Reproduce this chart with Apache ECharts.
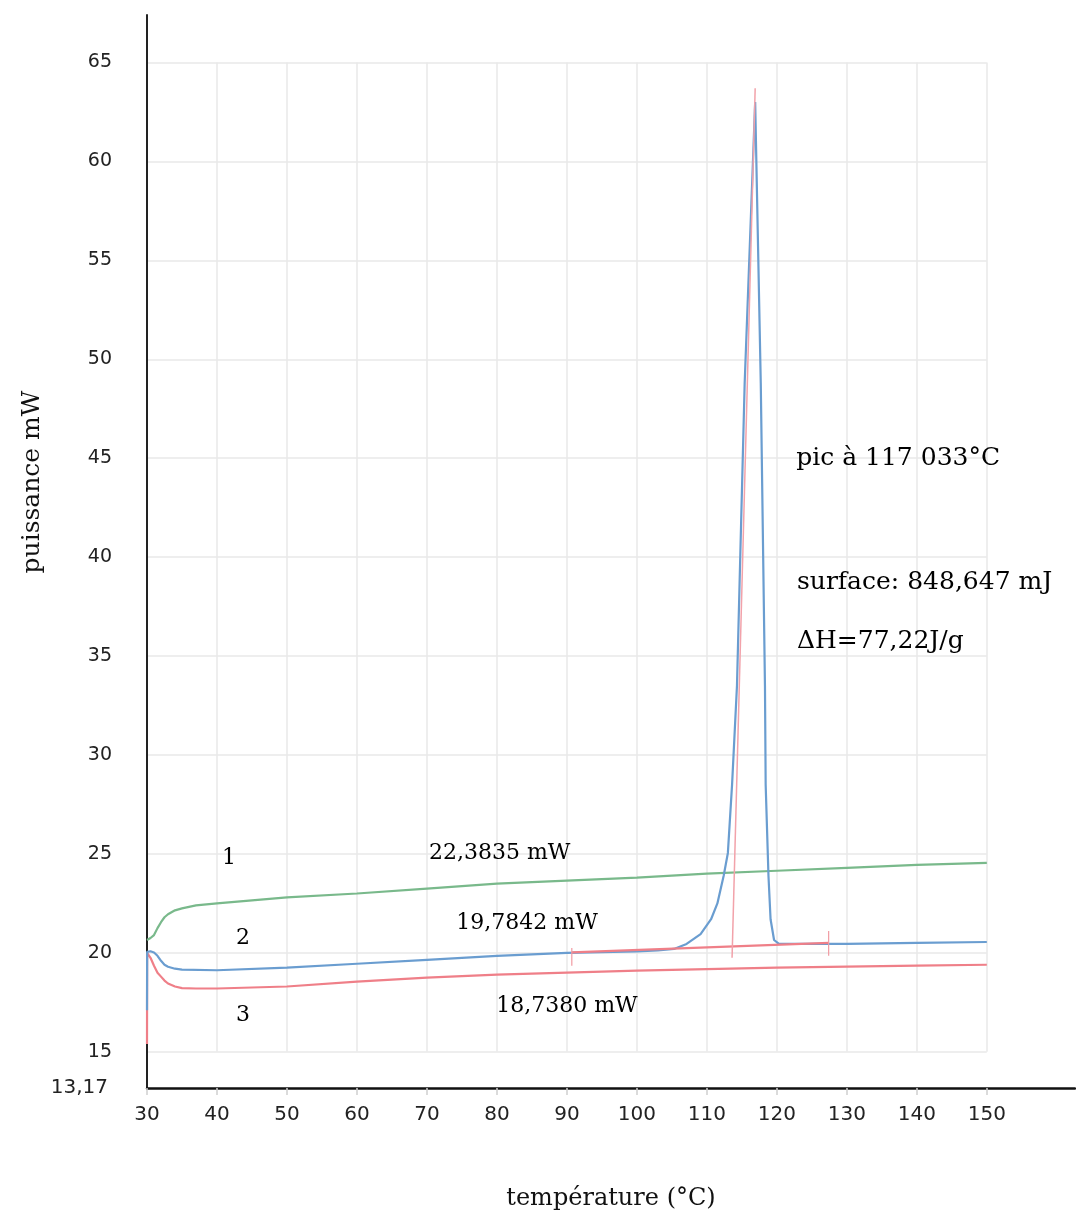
<!DOCTYPE html>
<html><head><meta charset="utf-8">
<script src="https://cdn.jsdelivr.net/npm/echarts@6/dist/echarts.min.js"></script>
<style>html,body{margin:0;padding:0;background:#fff}#c{width:1076px;height:1219px}</style>
</head><body><div id="c"></div>
<script>
// ---- data (temperature °C, power mW) ----
const tempGreen  = [30, 30.5, 31, 31.5, 32, 32.5, 33, 34, 35, 37, 40, 45, 50, 60, 70, 80, 90, 100, 110, 120, 130, 140, 150];
const powerGreen = [20.65, 20.75, 20.9, 21.25, 21.55, 21.8, 21.95, 22.15, 22.25, 22.4, 22.5, 22.65, 22.8, 23.0, 23.25, 23.5, 23.65, 23.8, 24.0, 24.15, 24.3, 24.45, 24.55];

const tempBlue  = [30, 30.02, 30.5, 31, 31.5, 32, 32.5, 33, 34, 35, 40, 50, 60, 70, 80, 90, 100, 103, 105.3, 107.1, 109.1, 110.6, 111.5, 112.4, 113.0, 113.6, 114.3, 115.4, 116.9, 117.7, 118.3, 118.4, 118.8, 119.1, 119.6, 120.3, 122, 130, 140, 150];
const powerBlue = [17.1, 20.05, 20.08, 20.02, 19.85, 19.6, 19.4, 19.3, 19.2, 19.15, 19.12, 19.25, 19.45, 19.65, 19.85, 20.0, 20.08, 20.12, 20.2, 20.45, 20.95, 21.7, 22.5, 23.9, 25.05, 28.5, 33.5, 48.8, 63.0, 48.8, 33.5, 28.5, 23.9, 21.7, 20.65, 20.45, 20.45, 20.45, 20.5, 20.55];

const tempRed  = [30, 30.02, 30.5, 31, 31.5, 32, 32.5, 33, 34, 35, 37, 40, 50, 60, 70, 80, 90, 100, 110, 120, 130, 140, 150];
const powerRed = [15.4, 20.0, 19.75, 19.35, 19.0, 18.8, 18.6, 18.45, 18.3, 18.22, 18.2, 18.2, 18.3, 18.55, 18.75, 18.9, 19.0, 19.1, 19.18, 19.25, 19.3, 19.35, 19.4];

// peak marker line and integration baseline
const tempPeakMark  = [113.6, 116.9];
const powerPeakMark = [19.75, 63.7];
const tempBaseline  = [90.7, 127.4];
const powerBaseline = [20.02, 20.5];
const tempBaseTickA = [90.7, 90.7];
const powerBaseTickA = [19.35, 20.25];
const tempBaseTickB = [127.4, 127.4];
const powerBaseTickB = [19.85, 21.1];

// annotations
const noteCentreText = ['1', '2', '3', '22,3835 mW', '19,7842 mW', '18,7380 mW'];
const noteCentreT    = [41.7, 43.7, 43.7, 80.4, 84.3, 90.0];
const noteCentreV    = [24.8, 20.75, 16.85, 25.05, 21.5, 17.3];
const noteLeftText = ['pic à 117 033°C', 'surface: 848,647 mJ', 'ΔH=77,22J/g'];
const noteLeftT    = [122.7, 122.8, 122.8];
const noteLeftV    = [45.0, 38.7, 35.75];

// axes
const xTickMin = 30, xTickMax = 150, xTickStep = 10;
const yTickMin = 15, yTickMax = 65, yTickStep = 5;
const xAxisEnd = 162.6, yAxisMin = 13.17, yAxisEnd = 67.4;

const zip = (a, b) => a.map((v, i) => [v, b[i]]);
const serif = "'DejaVu Serif', 'Liberation Serif', serif";
const sans = "'DejaVu Sans', sans-serif";

const chart = echarts.init(document.getElementById('c'));
const lineSeries = (name, t, v, color, width, z) => ({
  name, type: 'line', xAxisIndex: 0, yAxisIndex: 0, data: zip(t, v), showSymbol: false, symbol: 'none',
  lineStyle: { color, width }, z: z || 3, animation: false, silent: true
});

chart.setOption({
  animation: false,
  backgroundColor: '#fff',
  grid: [
    { left: 147, right: 1, top: 15, bottom: 131, outerBoundsMode: 'none', containLabel: false },
    { left: 147, right: 89.2, top: 62.5, bottom: 167.2, outerBoundsMode: 'none', containLabel: false }
  ],
  xAxis: [
    { gridIndex: 0, type: 'value', min: xTickMin, max: xAxisEnd,
      axisLine: { show: true, lineStyle: { color: '#111', width: 2.5 } },
      axisTick: { show: false }, axisLabel: { show: false }, splitLine: { show: false },
      name: 'température (°C)', nameLocation: 'middle', nameGap: 99,
      nameTextStyle: { fontFamily: serif, fontSize: 24, color: '#111' } },
    { gridIndex: 1, type: 'value', min: xTickMin, max: xTickMax, interval: xTickStep, offset: 36.2,
      axisLine: { show: false },
      axisTick: { show: true, length: 7, lineStyle: { color: '#cfcfcf', width: 1.5 } },
      axisLabel: { margin: 17, fontFamily: sans, fontSize: 20, color: '#222' },
      splitLine: { show: true, lineStyle: { color: '#e9e9e9', width: 1.5 } } }
  ],
  yAxis: [
    { gridIndex: 0, type: 'value', min: yAxisMin, max: yAxisEnd,
      axisLine: { show: true, lineStyle: { color: '#222', width: 2 } },
      axisTick: { show: false }, splitLine: { show: false },
      axisLabel: { margin: 39, fontFamily: sans, fontSize: 20, color: '#222',
        formatter: v => Math.abs(v - yAxisMin) < 1e-6 ? String(yAxisMin).replace('.', ',') : '' } },
    { gridIndex: 1, type: 'value', min: yTickMin, max: yTickMax, interval: yTickStep,
      axisLine: { show: false }, axisTick: { show: false },
      axisLabel: { margin: 35, fontFamily: sans, fontSize: 19, color: '#222' },
      splitLine: { show: true, lineStyle: { color: '#e9e9e9', width: 1.5 } } }
  ],
  graphic: [
    { type: 'text', x: 32, y: 482, rotation: Math.PI / 2,
      style: { text: 'puissance mW', font: "25px 'DejaVu Serif'", fill: '#111', align: 'center', verticalAlign: 'middle' } }
  ],
  series: [
    lineSeries('3', tempRed, powerRed, '#ef7f88', 2.2, 3),
    lineSeries('1', tempGreen, powerGreen, '#79b98b', 2.2, 3),
    lineSeries('baseline', tempBaseline, powerBaseline, '#ef7f88', 2.2, 5),
    lineSeries('tickA', tempBaseTickA, powerBaseTickA, '#f19aa2', 1.2, 5),
    lineSeries('tickB', tempBaseTickB, powerBaseTickB, '#f19aa2', 1.2, 5),
    lineSeries('2', tempBlue, powerBlue, '#6a9dd0', 2.2, 4),
    lineSeries('peak', tempPeakMark, powerPeakMark, '#f2a2aa', 1.5, 6),
    { type: 'scatter', xAxisIndex: 0, yAxisIndex: 0, symbolSize: 1, itemStyle: { color: 'rgba(0,0,0,0)' }, silent: true,
      data: zip(noteCentreT, noteCentreV),
      label: { show: true, position: 'inside', formatter: p => noteCentreText[p.dataIndex],
        fontFamily: serif, fontSize: 22, color: '#000', opacity: 1 }, z: 10 },
    { type: 'scatter', xAxisIndex: 0, yAxisIndex: 0, symbolSize: 1, itemStyle: { color: 'rgba(0,0,0,0)' }, silent: true,
      data: zip(noteLeftT, noteLeftV),
      label: { show: true, position: 'right', distance: 0, formatter: p => noteLeftText[p.dataIndex],
        fontFamily: serif, fontSize: 25, color: '#000', opacity: 1 }, z: 10 }
  ]
});
</script></body></html>
